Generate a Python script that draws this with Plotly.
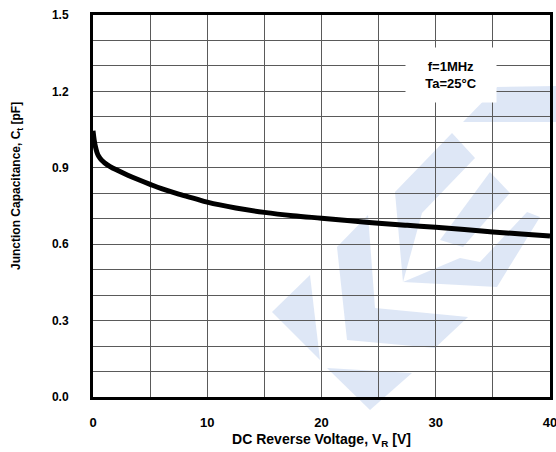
import plotly.graph_objects as go

# Data
voltage = [0.0, 0.1, 0.2, 0.35, 0.5, 0.75, 1.0, 1.5, 2.0, 3.0, 4.0, 5.0, 6.0, 7.5, 9.0, 10.0, 12.5, 15.0, 17.5, 20.0, 22.5, 25.0, 27.5, 30.0, 32.5, 35.0, 37.5, 40.0]
capacitance = [1.045, 1.01, 0.985, 0.96, 0.945, 0.93, 0.92, 0.905, 0.893, 0.872, 0.853, 0.835, 0.818, 0.797, 0.778, 0.765, 0.742, 0.725, 0.712, 0.702, 0.692, 0.682, 0.674, 0.667, 0.658, 0.648, 0.64, 0.632]
x_ticks = [0, 10, 20, 30, 40]
y_ticks = [0.0, 0.3, 0.6, 0.9, 1.2, 1.5]
y_tick_text = ["0.0", "0.3", "0.6", "0.9", "1.2", "1.5"]

W, H = 556, 452
L, R, T, B = 93, 550, 15, 397

def P(px, py):
    return ((px - L) / (R - L), (B - py) / (B - T))

def path(pts):
    s = ""
    for i, (px, py) in enumerate(pts):
        x, y = P(px, py)
        s += ("M" if i == 0 else "L") + f"{x:.4f},{y:.4f} "
    return s + "Z"

wm = [
    [(272, 312), (310, 275), (320, 360)],
    [(327, 368), (412, 373), (370, 410)],
    [(337, 247), (368, 215), (375, 308), (468, 317), (435, 348), (347, 340)],
    [(395, 192), (452, 133), (475, 158), (422, 213), (403, 282)],
    [(403, 282), (497, 287), (540, 217), (527, 212), (480, 262), (460, 258)],
    [(490, 172), (510, 193), (463, 247), (440, 240)],
    [(463, 122), (497, 87), (556, 86), (556, 122)],
]

fig = go.Figure()
fig.add_trace(go.Scatter(x=voltage, y=capacitance, mode="lines",
                         line=dict(color="black", width=5, shape="spline"),
                         showlegend=False, hoverinfo="skip"))

shapes = [dict(type="path", xref="paper", yref="paper", path=path(p),
               fillcolor="rgba(200,215,240,0.6)", line=dict(width=0), layer="below")
          for p in wm]

font_b = "Liberation Sans, Arial, sans-serif"
fig.update_layout(
    width=W, height=H,
    margin=dict(l=L, r=W - R, t=T, b=H - B, autoexpand=False),
    paper_bgcolor="white", plot_bgcolor="rgba(0,0,0,0)",
    shapes=shapes,
    font=dict(family=font_b, color="black", size=12),
    xaxis=dict(range=[0, 40], tickvals=x_ticks, ticktext=[str(v) for v in x_ticks],
               showgrid=True, gridcolor="#5a5a5a", gridwidth=1, automargin=False,
               minor=dict(dtick=5, showgrid=True, gridcolor="#5a5a5a", gridwidth=1),
               showline=True, linecolor="black", linewidth=3, mirror=True,
               ticks="", ticklabelstandoff=11, zeroline=False, ticklabeloverflow="allow",
               tickfont=dict(size=13, family=font_b, weight="bold"),
               title=dict(text="DC Reverse Voltage, V<sub>R</sub> [V]", standoff=6,
                          font=dict(size=14, family=font_b, weight="bold"))),
    yaxis=dict(range=[0, 1.5], tickvals=y_ticks, ticktext=y_tick_text,
               showgrid=True, gridcolor="#5a5a5a", gridwidth=1, automargin=False,
               minor=dict(dtick=0.1, showgrid=True, gridcolor="#5a5a5a", gridwidth=1),
               showline=True, linecolor="black", linewidth=3, mirror=True,
               ticks="", ticklabelstandoff=19, zeroline=False, ticklabeloverflow="allow",
               tickfont=dict(size=12, family=font_b, weight="bold")),
)

fig.add_annotation(x=17, y=P(0, 186)[1], xref="paper", yref="paper", xanchor="center",
                   yanchor="middle", textangle=-90, showarrow=False,
                   text="Junction Capacitance, C<sub>t</sub> [pF]",
                   font=dict(size=12, family=font_b, weight="bold"))
fig.layout.annotations[0].x = (17 - L) / (R - L)

fig.add_annotation(x=P(497, 47)[0], y=P(497, 47)[1], xref="paper", yref="paper",
                   text="f=1MHz<br>Ta=25°C", showarrow=False,
                   font=dict(size=13, family=font_b, weight="bold"),
                   bgcolor="white", width=88, height=52, align="center")

fig.write_html("out.html", config={"displayModeBar": False},
               post_script="document.body.style.margin='0';document.body.style.overflow='hidden';")
